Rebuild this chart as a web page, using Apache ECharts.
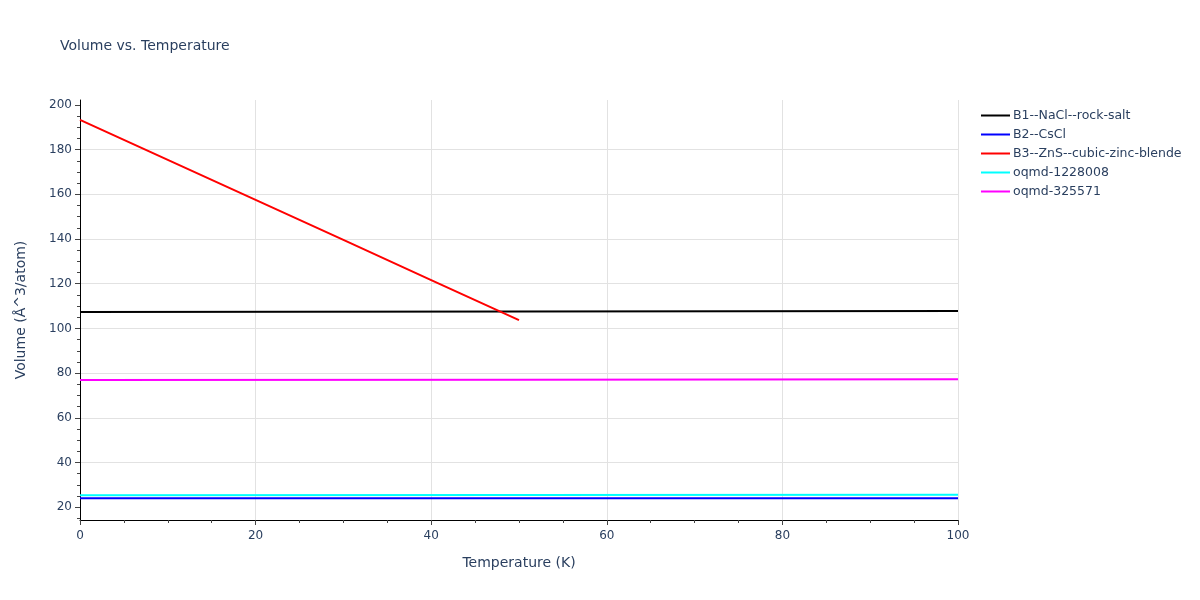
<!DOCTYPE html>
<html>
<head>
<meta charset="utf-8">
<script src="https://cdn.jsdelivr.net/npm/echarts@6/dist/echarts.min.js"></script>
<style>html,body{margin:0;padding:0;background:#fff}#c{width:1200px;height:600px}</style>
</head>
<body>
<div id="c"></div>
<script>
var seriesNames = ['B1--NaCl--rock-salt','B2--CsCl','B3--ZnS--cubic-zinc-blende','oqmd-1228008','oqmd-325571'];
var seriesColors = ['#000000','#0000ff','#ff0000','#00ffff','#ff00ff'];
var tempB1 = [0, 50, 100];
var volB1 = [107.3, 107.6, 107.8];
var tempB2 = [0, 50, 100];
var volB2 = [24.0, 24.0, 24.0];
var tempB3 = [0, 10, 20, 30, 40, 50];
var volB3 = [193.3, 175.4, 157.5, 139.6, 121.6, 103.7];
var tempO1 = [0, 50, 100];
var volO1 = [25.4, 25.5, 25.6];
var tempO2 = [0, 50, 100];
var volO2 = [76.9, 77.1, 77.3];
var xTicks = [0, 20, 40, 60, 80, 100];
var yTicks = [20, 40, 60, 80, 100, 120, 140, 160, 180, 200];
var yMinorTicks = [15, 25, 30, 35, 45, 50, 55, 65, 70, 75, 85, 90, 95, 105, 110, 115, 125, 130, 135, 145, 150, 155, 165, 170, 175, 185, 190, 195];

function pairs(xs, ys){ return xs.map(function(x,i){ return [x, ys[i]]; }); }
var allX = [tempB1, tempB2, tempB3, tempO1, tempO2];
var allY = [volB1, volB2, volB3, volO1, volO2];

var txt = '#2a3f5f';
var font = 'DejaVu Sans';
var Y_MIN = 14.3, Y_MAX = 202.2;
var chart = echarts.init(document.getElementById('c'));
chart.setOption({
  animation: false,
  backgroundColor: '#fff',
  title: { text: 'Volume vs. Temperature', left: 55, top: 34, textStyle: { fontFamily: font, fontSize: 14, fontWeight: 'normal', color: txt } },
  legend: {
    orient: 'vertical', left: 976, top: 104, itemWidth: 29, itemHeight: 2, itemGap: 6, icon: 'rect',
    textStyle: { fontFamily: font, fontSize: 12.5, color: txt, padding: [0,0,0,-2] },
    data: seriesNames
  },
  grid: { left: 80, right: 242, top: 100, bottom: 80 },
  xAxis: {
    type: 'value', min: 0, max: 100, interval: 20,
    name: 'Temperature (K)', nameLocation: 'middle', nameGap: 36,
    nameTextStyle: { fontFamily: font, fontSize: 14, color: txt },
    axisLine: { show: true, lineStyle: { color: '#000', width: 1 } },
    axisTick: { show: true, length: 5, lineStyle: { color: '#444' } },
    minorTick: { show: true, splitNumber: 4, length: 3, lineStyle: { color: '#444' } },
    axisLabel: { fontFamily: font, fontSize: 12, color: txt, margin: 10,
      formatter: function(v){ return xTicks.indexOf(v) >= 0 ? String(v) : ''; } },
    splitLine: { show: true, lineStyle: { color: '#e2e2e2' } }
  },
  yAxis: [{
    type: 'value', min: Y_MIN, max: Y_MAX, splitNumber: 9,
    name: 'Volume (Å^3/atom)', nameLocation: 'middle', nameGap: 52,
    nameTextStyle: { fontFamily: font, fontSize: 14, color: txt },
    axisLine: { show: true, lineStyle: { color: '#000', width: 1 } },
    axisTick: { show: true, length: 5, customValues: yTicks, lineStyle: { color: '#444' } },
    axisLabel: { fontFamily: font, fontSize: 12, color: txt, margin: 8, customValues: yTicks },
    splitLine: { show: true, showMinLine: false, showMaxLine: false, lineStyle: { color: '#e2e2e2' } }
  }, {
    type: 'value', min: Y_MIN, max: Y_MAX, position: 'left', offset: 0,
    axisLine: { show: false },
    axisTick: { show: true, length: 3, customValues: yMinorTicks, lineStyle: { color: '#444' } },
    axisLabel: { show: false },
    splitLine: { show: false }
  }],
  series: seriesNames.map(function(n, i){
    return { name: n, type: 'line', symbol: 'none', color: seriesColors[i], yAxisIndex: 0,
      lineStyle: { width: 2, color: seriesColors[i] }, data: pairs(allX[i], allY[i]) };
  })
});
</script>
</body>
</html>
